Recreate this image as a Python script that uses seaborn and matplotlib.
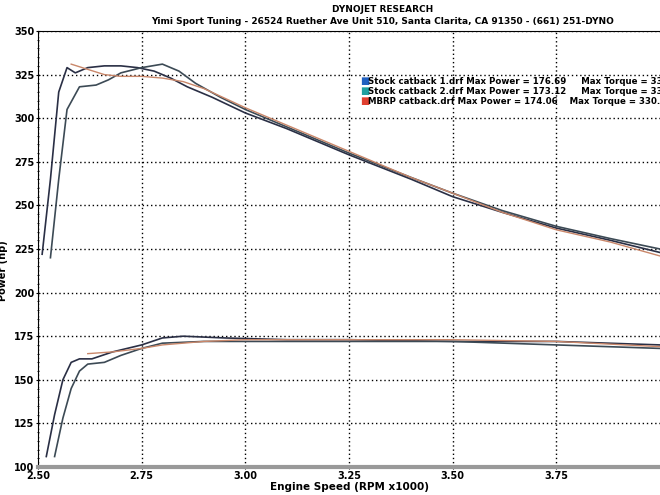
import numpy as np
import pandas as pd
import matplotlib
matplotlib.use("Agg")
import matplotlib.pyplot as plt
import seaborn as sns
from matplotlib.ticker import MultipleLocator

# RPM x1000
s1_pow_x = [2.51, 2.53, 2.55, 2.57, 2.59, 2.62, 2.66, 2.70, 2.74, 2.78, 2.82, 2.86, 2.92, 3.00, 3.10, 3.25, 3.40, 3.50, 3.62, 3.75, 3.88, 4.00]
s1_pow_y = [222, 265, 315, 329, 326, 329, 330, 330, 329, 327, 323, 318, 312, 303, 294, 279, 265, 255, 246, 237, 230, 223]
s2_pow_x = [2.53, 2.55, 2.57, 2.60, 2.64, 2.67, 2.70, 2.75, 2.80, 2.84, 2.88, 2.94, 3.00, 3.10, 3.25, 3.40, 3.50, 3.62, 3.75, 3.88, 4.00]
s2_pow_y = [220, 265, 305, 318, 319, 322, 326, 329, 331, 327, 320, 312, 305, 295, 280, 266, 257, 247, 238, 231, 225]
mb_pow_x = [2.58, 2.62, 2.66, 2.70, 2.75, 2.80, 2.85, 2.90, 3.00, 3.10, 3.25, 3.40, 3.50, 3.62, 3.75, 3.88, 4.00]
mb_pow_y = [331, 328, 325, 324, 324, 323, 321, 317, 306, 296, 281, 266, 257, 246, 236, 229, 221]

s1_tq_x = [2.52, 2.54, 2.56, 2.58, 2.60, 2.63, 2.68, 2.75, 2.80, 2.85, 2.95, 3.10, 3.25, 3.50, 3.75, 4.00]
s1_tq_y = [106, 130, 150, 160, 162, 162, 166, 170, 174, 175, 174, 173, 173, 172, 172, 170]
s2_tq_x = [2.54, 2.56, 2.58, 2.60, 2.62, 2.66, 2.70, 2.75, 2.80, 2.90, 3.10, 3.25, 3.50, 3.75, 4.00]
s2_tq_y = [106, 128, 145, 155, 159, 160, 164, 168, 171, 172, 172, 172, 172, 170, 168]
mb_tq_x = [2.62, 2.68, 2.75, 2.80, 2.90, 3.00, 3.25, 3.50, 3.75, 4.00]
mb_tq_y = [165, 166, 168, 170, 172, 173, 173, 173, 172, 169]

labels = ["Stock catback 1.drf Max Power = 176.69     Max Torque = 330.86",
          "Stock catback 2.drf Max Power = 173.12     Max Torque = 331.02",
          "MBRP catback.drf Max Power = 174.06    Max Torque = 330.91"]
line_colors = ["#2a2f45", "#3c4a55", "#c9876a"]
box_colors = ["#2060c0", "#20a0a0", "#e04030"]

fig = plt.figure(figsize=(6.6, 4.95), dpi=100)
ax = fig.add_axes([38/660, 28/495, 622/660, 436/495])

series = [(s1_pow_x, s1_pow_y, 0), (s2_pow_x, s2_pow_y, 1), (mb_pow_x, mb_pow_y, 2),
          (s1_tq_x, s1_tq_y, 0), (s2_tq_x, s2_tq_y, 1), (mb_tq_x, mb_tq_y, 2)]
for i, (x, y, c) in enumerate(series):
    df = pd.DataFrame({"x": x, "y": y})
    sns.lineplot(data=df, x="x", y="y", ax=ax, color=line_colors[c], lw=1.2 if c < 2 else 1.0,
                 sort=False, estimator=None)

ax.set_xlim(2.5, 4.0)
ax.set_ylim(100, 350)
ax.xaxis.set_minor_locator(MultipleLocator(0.025))
ax.yaxis.set_major_locator(MultipleLocator(25))
ax.yaxis.set_minor_locator(MultipleLocator(5))
ax.set_xticks([2.5, 2.75, 3.0, 3.25, 3.5, 3.75])
ax.set_xticklabels(["2.50", "2.75", "3.00", "3.25", "3.50", "3.75"])
ax.tick_params(axis="both", which="both", direction="inout", labelsize=7, pad=1)
for lab in ax.get_xticklabels() + ax.get_yticklabels():
    lab.set_fontweight("bold")
ax.grid(True, which="major", ls=(0, (1, 2)), color="black", lw=1)
ax.spines["right"].set_visible(False)
ax.spines["bottom"].set_linewidth(3)
ax.spines["bottom"].set_color("#999999")
ax.set_xlabel("Engine Speed (RPM x1000)", fontsize=7.5, fontweight="bold", labelpad=1)
ax.set_ylabel("Power (hp)", fontsize=7, fontweight="bold", labelpad=1)
ax.yaxis.set_label_coords(-0.048, 0.45)

fig.text(0.58, 0.99, "DYNOJET RESEARCH", ha="center", va="top", fontsize=6.5, fontweight="bold")
fig.text(0.58, 0.965, "Yimi Sport Tuning - 26524 Ruether Ave Unit 510, Santa Clarita, CA 91350 - (661) 251-DYNO",
         ha="center", va="top", fontsize=6.5, fontweight="bold")

for i, (lab, bc) in enumerate(zip(labels, box_colors)):
    y = 1 - (81 + i * 10) / 495
    fig.text(360/660, y, "\u25A0", color=bc, fontsize=7, va="center", ha="left")
    fig.text(368/660, y, lab, fontsize=6.2, fontweight="bold", va="center", ha="left")

fig.savefig("out.png", dpi=100)
